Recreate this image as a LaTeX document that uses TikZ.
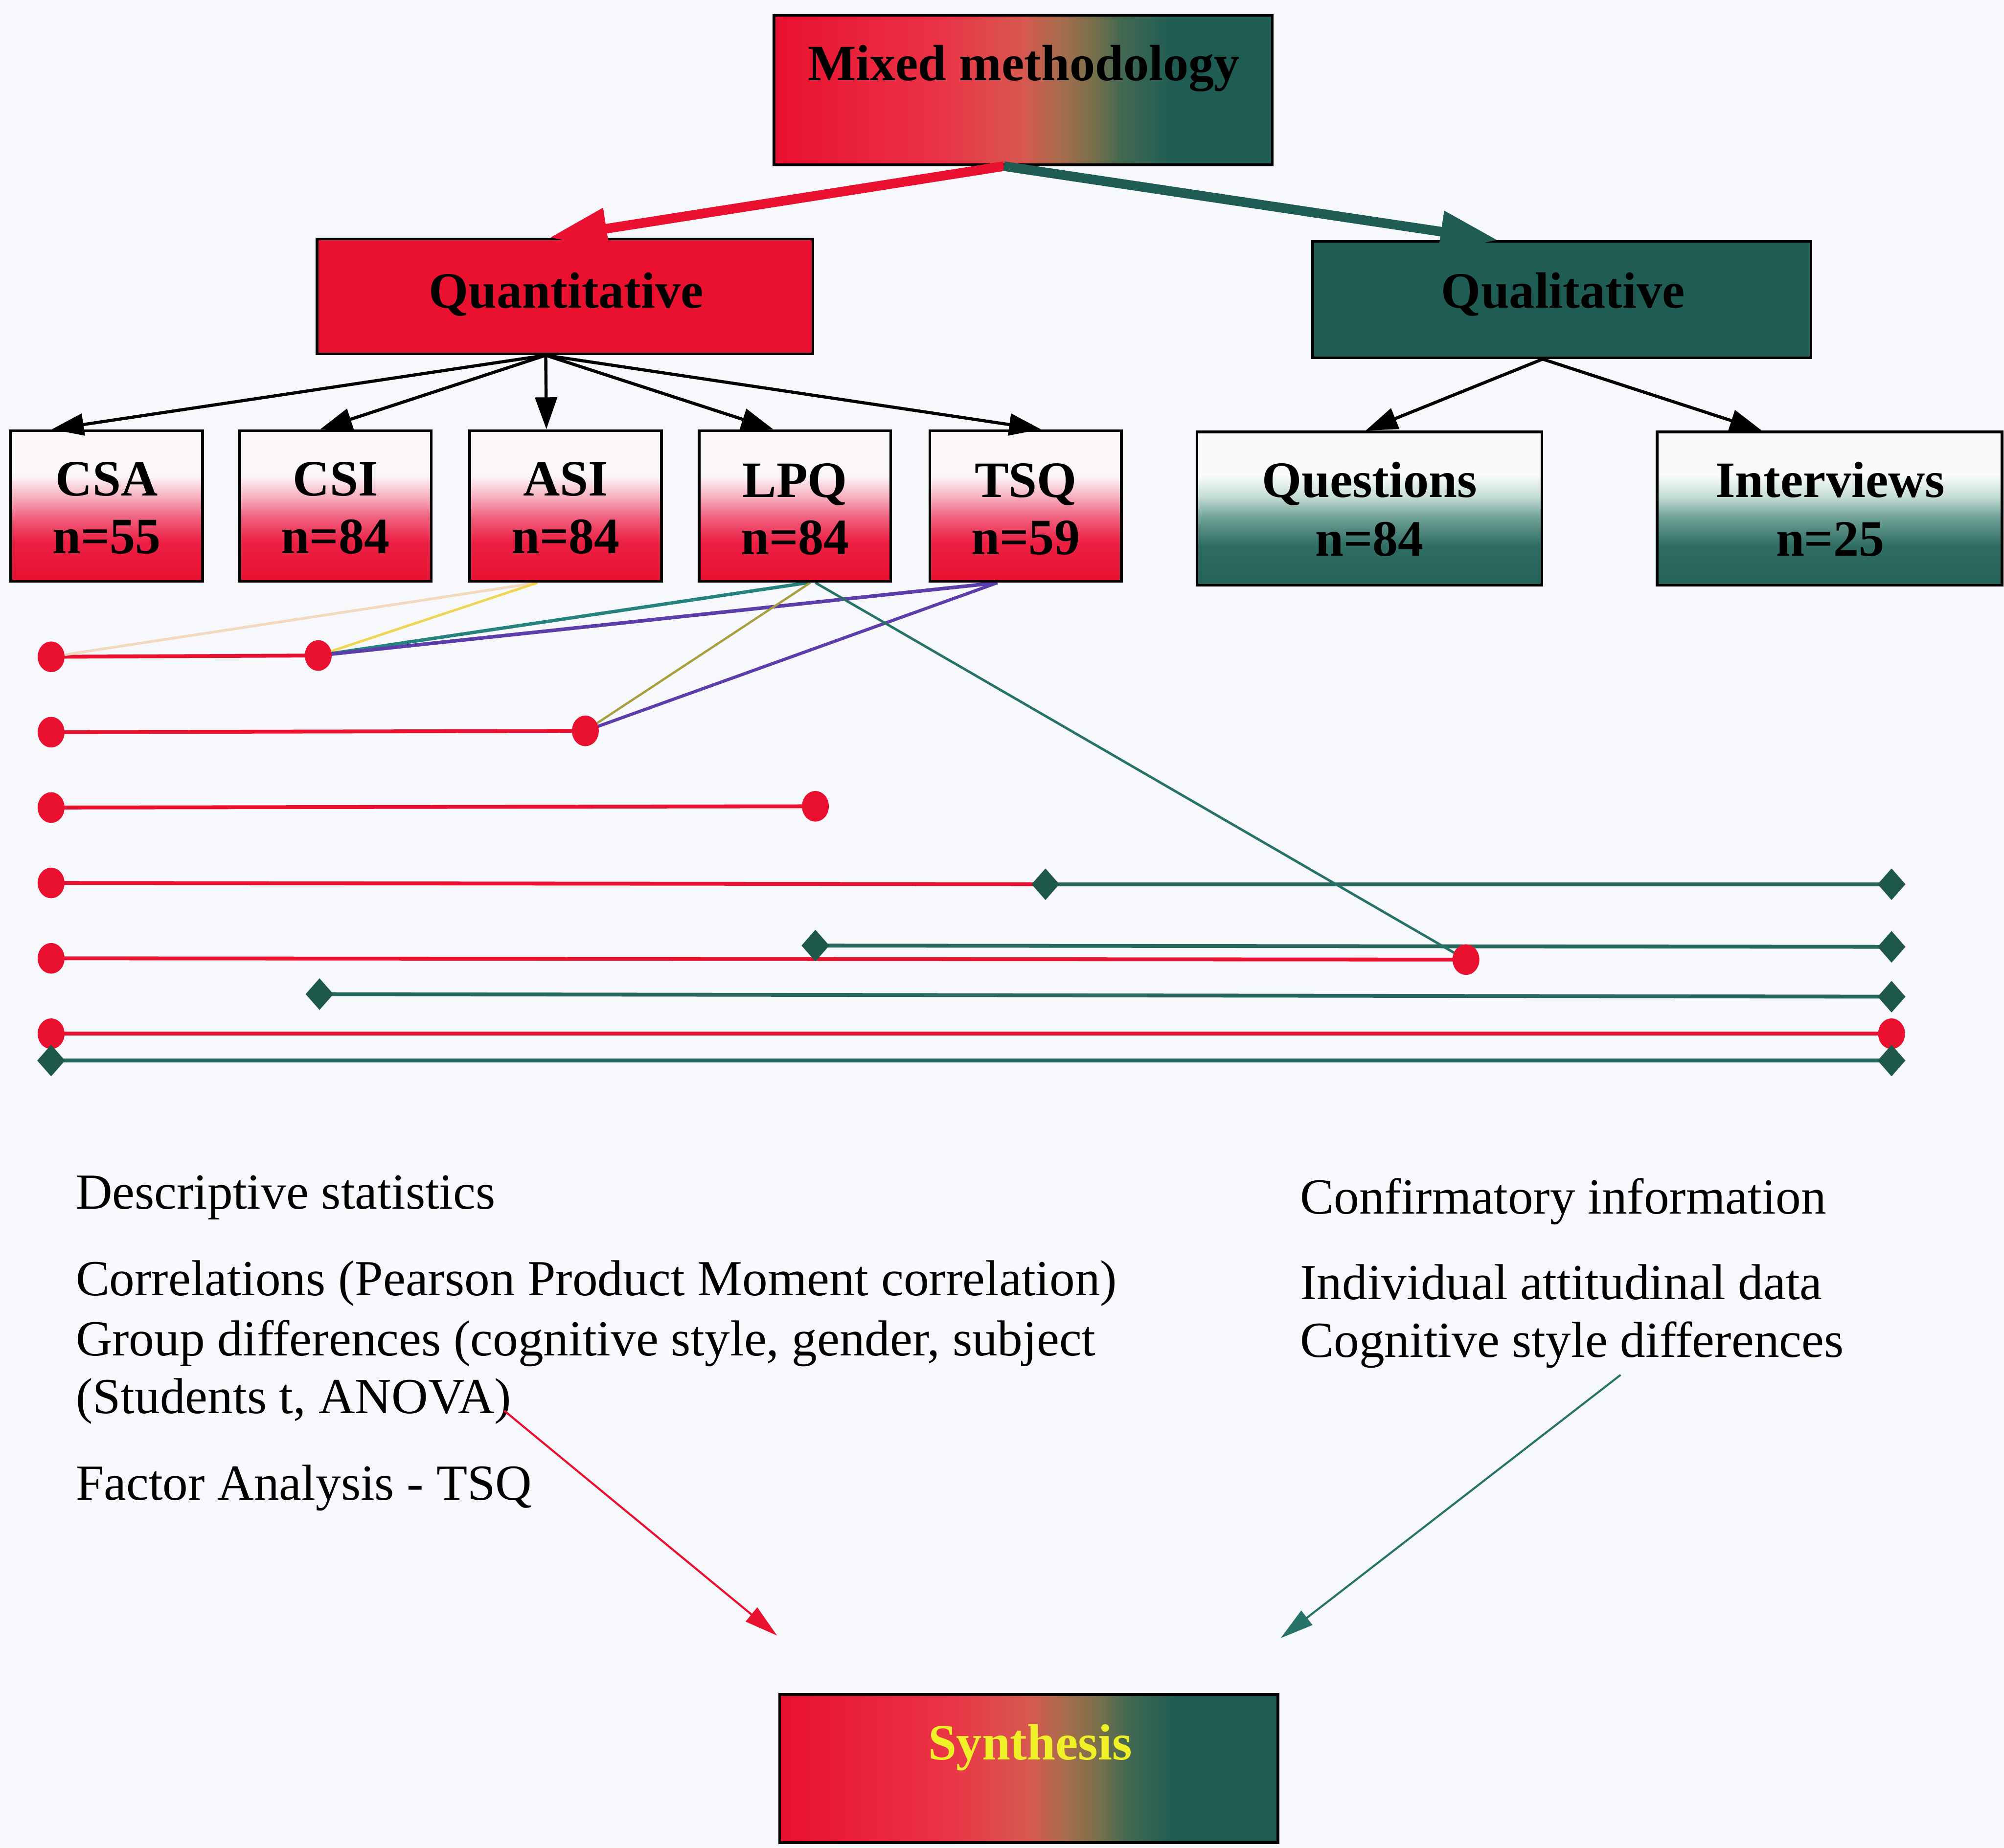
\documentclass[tikz,border=0pt]{standalone}
\usepackage{fontspec}
\setmainfont{Liberation Serif}
\usetikzlibrary{arrows.meta,shapes.geometric,calc}

\definecolor{pagebg}{RGB}{247,248,252}
\definecolor{qred}{RGB}{233,16,48}
\definecolor{qteal}{RGB}{30,92,84}
\definecolor{dgreen}{RGB}{30,88,74}
\definecolor{lgreen}{RGB}{40,104,94}
\definecolor{synthyellow}{RGB}{240,240,40}
% horizontal red-to-green blend
\definecolor{mixa}{RGB}{234,52,70}
\definecolor{mixb}{RGB}{215,88,80}
\definecolor{mixc}{RGB}{170,108,78}
\definecolor{mixd}{RGB}{120,112,75}
\definecolor{mixe}{RGB}{65,104,82}
% white-to-red fade
\definecolor{rfa}{RGB}{236,32,68}
\definecolor{rfb}{RGB}{240,95,125}
\definecolor{rfc}{RGB}{246,175,190}
\definecolor{rfd}{RGB}{251,247,249}
% white-to-teal fade
\definecolor{gbot}{RGB}{36,98,90}
\definecolor{gfa}{RGB}{48,110,100}
\definecolor{gfb}{RGB}{110,160,150}
\definecolor{gfc}{RGB}{198,222,216}
\definecolor{gfd}{RGB}{249,251,251}
% thin link colours
\definecolor{peach}{RGB}{242,218,192}
\definecolor{linkyellow}{RGB}{240,214,80}
\definecolor{linkteal}{RGB}{38,130,125}
\definecolor{linkpurple}{RGB}{92,62,170}
\definecolor{linkolive}{RGB}{168,160,64}
\definecolor{linkteal2}{RGB}{40,115,105}

\pgfdeclarehorizontalshading{mixshade}{100bp}{color(0bp)=(qred); color(25bp)=(qred); color(42bp)=(mixa); color(50bp)=(mixb); color(53.5bp)=(mixc); color(57bp)=(mixd); color(60bp)=(mixe); color(65bp)=(qteal); color(75bp)=(qteal); color(100bp)=(qteal)}
\pgfdeclareverticalshading{redfade}{100bp}{color(0bp)=(qred); color(25bp)=(qred); color(38bp)=(rfa); color(46bp)=(rfb); color(53bp)=(rfc); color(60bp)=(rfd); color(75bp)=(rfd); color(100bp)=(rfd)}
\pgfdeclareverticalshading{tealfade}{100bp}{color(0bp)=(gbot); color(25bp)=(gbot); color(38bp)=(gfa); color(47bp)=(gfb); color(54bp)=(gfc); color(61bp)=(gfd); color(75bp)=(gfd); color(100bp)=(gfd)}

\pgfdeclarelayer{back}
\pgfdeclarelayer{links}
\pgfsetlayers{back,links,main}

\begin{document}
\begin{tikzpicture}[x=0.02cm, y=-0.02cm,
  box/.style={draw=black, line width=1.2pt, inner sep=0pt},
  bigbox/.style={box, shade, shading=mixshade, minimum width=7.8cm, minimum height=2.34cm},
  redbox/.style={box, shade, shading=redfade, minimum width=3cm, minimum height=2.36cm},
  tealbox/.style={box, shade, shading=tealfade, minimum width=5.4cm, minimum height=2.4cm},
  lbl/.style={inner sep=0pt, anchor=base, font=\bfseries\fontsize{22.7}{27}\selectfont},
  body/.style={inner sep=0pt, anchor=base west, font=\fontsize{22.5}{27}\selectfont},
  rdot/.style={ellipse, fill=qred, inner sep=0pt, minimum width=0.42cm, minimum height=0.48cm},
  gdia/.style={diamond, fill=dgreen, inner sep=0pt, minimum width=0.44cm, minimum height=0.5cm},
  redconn/.style={draw=qred, line width=1.7pt},
  greenconn/.style={draw=lgreen, line width=1.7pt},
  fatred/.style={draw=qred, line width=0.15cm, -{Triangle[length=0.9cm, width=0.62cm]}},
  fatgreen/.style={draw=qteal, line width=0.15cm, -{Triangle[length=0.9cm, width=0.62cm]}},
  blk/.style={draw=black, line width=1.4pt, -{Triangle[length=0.5cm, width=0.34cm]}},
  thinred/.style={draw=qred, line width=0.9pt, -{Triangle[length=0.52cm, width=0.28cm]}},
  thingreen/.style={draw=linkteal2, line width=0.9pt, -{Triangle[length=0.52cm, width=0.28cm]}}
]
\useasboundingbox (0,0) rectangle (1568,1446);
\begin{pgfonlayer}{back}
  \fill[pagebg] (0,0) rectangle (1568,1446);
\end{pgfonlayer}

% top level
\node[bigbox] (mixed) at (800.5,70.5) {};
\node[lbl] (mixedlbl) at (801,63) {Mixed methodology};

\node[box, fill=qred, minimum width=7.76cm, minimum height=1.8cm] (quant) at (442,232) {};
\node[lbl] (quantlbl) at (443,241) {Quantitative};
\node[box, fill=qteal, minimum width=7.8cm, minimum height=1.82cm] (qual) at (1222,234.5) {};
\node[lbl] (quallbl) at (1223,241) {Qualitative};

% instruments
\node[redbox] (csa) at (83.5,396) {};
\node[redbox] (csi) at (262.5,396) {};
\node[redbox] (asi) at (442.5,396) {};
\node[redbox] (lpq) at (622,396) {};
\node[redbox] (tsq) at (802.5,396) {};
\node[tealbox] (ques) at (1071.5,398) {};
\node[tealbox] (intv) at (1431.5,398) {};

\node[lbl] (tcsa) at (83.5,388) {CSA};   \node[lbl] (ncsa) at (83.5,433) {n=55};
\node[lbl] (tcsi) at (262.5,388) {CSI};  \node[lbl] (ncsi) at (262.5,433) {n=84};
\node[lbl] (tasi) at (442.5,388) {ASI};  \node[lbl] (nasi) at (442.5,433) {n=84};
\node[lbl] (tlpq) at (622,389) {LPQ};    \node[lbl] (nlpq) at (622,434) {n=84};
\node[lbl] (ttsq) at (802.5,389) {TSQ};  \node[lbl] (ntsq) at (802.5,434) {n=59};
\node[lbl] (tques) at (1071.5,389) {Questions};  \node[lbl] (nques) at (1071.5,435) {n=84};
\node[lbl] (tintv) at (1432,389) {Interviews};   \node[lbl] (nintv) at (1432,435) {n=25};

% branch arrows
\draw[fatred] ($(mixed.south)+(-15,0)$) -- ($(quant.north)+(-12,0)$);
\draw[fatgreen] ($(mixed.south)+(-15,0)$) -- ($(qual.north)+(-50,0)$);

\draw[blk] ($(quant.south)+(-15,0)$) -- ($(csa.north)+(-43,0)$);
\draw[blk] ($(quant.south)+(-15,0)$) -- ($(csi.north)+(-12,0)$);
\draw[blk] ($(quant.south)+(-15,0)$) -- ($(asi.north)+(-15,0)$);
\draw[blk] ($(quant.south)+(-15,0)$) -- ($(lpq.north)+(-17,0)$);
\draw[blk] ($(quant.south)+(-15,0)$) -- ($(tsq.north)+(12,0)$);
\draw[blk] ($(qual.south)+(-15,0)$) -- ($(ques.north)+(-3,0)$);
\draw[blk] ($(qual.south)+(-15,0)$) -- ($(intv.north)+(-53,0)$);

% analysis rows
\node[rdot] (r1a) at (40,514) {};   \node[rdot] (r1b) at (249,513) {};
\node[rdot] (r2a) at (40,573) {};   \node[rdot] (r2b) at (458,572) {};
\node[rdot] (r3a) at (40,632) {};   \node[rdot] (r3b) at (638,631) {};
\node[rdot] (r4a) at (40,691) {};
\node[rdot] (r5a) at (40,750) {};   \node[rdot] (r5b) at (1147,751) {};
\node[rdot] (r7a) at (40,809) {};   \node[rdot] (r7b) at (1480,809) {};
\node[gdia] (g4a) at (818,692) {};  \node[gdia] (g4b) at (1480,692) {};
\node[gdia] (g5a) at (638,740) {};  \node[gdia] (g5b) at (1480,741) {};
\node[gdia] (g6a) at (250,778) {};  \node[gdia] (g6b) at (1480,780) {};
\node[gdia] (g8a) at (40,830) {};   \node[gdia] (g8b) at (1480,830) {};

\begin{pgfonlayer}{links}
  \draw[redconn] (r1a.center) -- (r1b.center);
  \draw[redconn] (r2a.center) -- (r2b.center);
  \draw[redconn] (r3a.center) -- (r3b.center);
  \draw[redconn] (r4a.center) -- (g4a.center);
  \draw[greenconn] (g4a.center) -- (g4b.center);
  \draw[redconn] (r5a.center) -- (r5b.center);
  \draw[greenconn] (g5a.center) -- (g5b.center);
  \draw[greenconn] (g6a.center) -- (g6b.center);
  \draw[redconn] (r7a.center) -- (r7b.center);
  \draw[greenconn] (g8a.center) -- (g8b.center);
  % links from the instruments
  \draw[draw=peach, line width=1.2pt] ($(asi.south)+(-22,0)$) -- (r1a.center);
  \draw[draw=linkyellow, line width=1.1pt] ($(asi.south)+(-22,0)$) -- (r1b.center);
  \draw[draw=linkteal, line width=1.5pt] ($(lpq.south)+(10,0)$) -- (r1b.center);
  \draw[draw=linkpurple, line width=1.6pt] ($(tsq.south)+(-22,0)$) -- (r1b.center);
  \draw[draw=linkolive, line width=1pt] ($(lpq.south)+(12,0)$) -- (r2b.center);
  \draw[draw=linkpurple, line width=1.4pt] ($(tsq.south)+(-22,0)$) -- (r2b.center);
  \draw[draw=linkteal2, line width=1.1pt] ($(lpq.south)+(16,0)$) -- (r5b.center);
\end{pgfonlayer}

% results
\node[body] (desc) at (59,946) {Descriptive statistics};
\node[body] (corr) at (59,1014) {Correlations (Pearson Product Moment correlation)};
\node[body] (grp) at (59,1061) {Group differences (cognitive style, gender, subject};
\node[body] (stud) at (59,1106) {(Students t, ANOVA)};
\node[body] (fact) at (59,1174) {Factor Analysis - TSQ};
\node[body] (conf) at (1017,950) {Confirmatory information};
\node[body] (indiv) at (1017,1017) {Individual attitudinal data};
\node[body] (cog) at (1017,1062) {Cognitive style differences};

% synthesis
\node[bigbox, minimum height=2.32cm] (synth) at (805,1384) {};
\node[lbl, text=synthyellow] (synthlbl) at (806,1377) {Synthesis};

\coordinate (redtip) at (608,1280);
\coordinate (greenstart) at (1268,1076);
\coordinate (greentip) at (1002,1282);
\draw[thinred] ($(stud.base east)+(-6,-2)$) -- (redtip);
\draw[thingreen] (greenstart) -- (greentip);
\end{tikzpicture}
\end{document}
